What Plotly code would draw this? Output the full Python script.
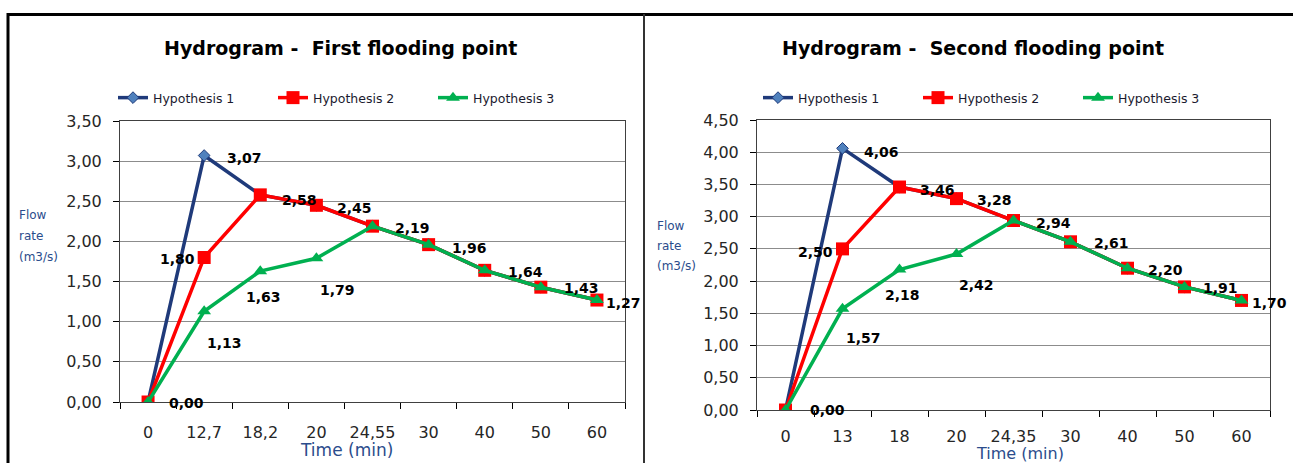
import plotly.graph_objects as go

# ---------------- data ----------------
cats_1 = ["0", "12,7", "18,2", "20", "24,55", "30", "40", "50", "60"]
h1_1 = [0.00, 3.07, 2.58, 2.45, 2.19, 1.96, 1.64, 1.43, 1.27]
h2_1 = [0.00, 1.80, 2.58, 2.45, 2.19, 1.96, 1.64, 1.43, 1.27]
h3_1 = [0.00, 1.13, 1.63, 1.79, 2.19, 1.96, 1.64, 1.43, 1.27]

cats_2 = ["0", "13", "18", "20", "24,35", "30", "40", "50", "60"]
h1_2 = [0.00, 4.06, 3.46, 3.28, 2.94, 2.61, 2.20, 1.91, 1.70]
h2_2 = [0.00, 2.50, 3.46, 3.28, 2.94, 2.61, 2.20, 1.91, 1.70]
h3_2 = [0.00, 1.57, 2.18, 2.42, 2.94, 2.61, 2.20, 1.91, 1.70]

series_names = ["Hypothesis 1", "Hypothesis 2", "Hypothesis 3"]
titles = ["Hydrogram - \u00a0First flooding point", "Hydrogram - \u00a0Second flooding point"]
y_title_lines = ["Flow", "rate", "(m3/s)"]
x_title = "Time (min)"

# ---------------- style ----------------
W, H = 1293, 463
def px_x(v): return v / W
def px_y(v): return 1 - v / H

colors = ["#1F3A7A", "#FF0000", "#00B050"]
symbols = ["diamond", "square", "triangle-up"]
msizes = [9, 13, 12]
mcolors = ["#4F81BD", "#FF0000", "#00B050"]

panels = [
    dict(cats=cats_1, data=[h1_1, h2_1, h3_1], xd=[120, 625], yd=[121, 402], yr=3.5,
         title_x=340, legend="legend", legend_x=113, xstand=16,
         ytitle_x=17, ytitle_ys=[215, 236, 257], xtitle_x=346, xtitle_y=450, xtitle_size=17,
         labels=[(1, 0, "left", 19, -1), (0, 1, "left", 21, -2), (1, 1, "right", -7, -2),
                 (2, 1, "left", 1, -32), (2, 2, "center", 3, -26), (2, 3, "left", 2, -32),
                 (1, 2, "left", 20, -5), (1, 3, "left", 19, -3), (1, 4, "left", 20, -2),
                 (1, 5, "left", 21, -3), (1, 6, "left", 21, -2), (1, 7, "left", 21, -1),
                 (1, 8, "left", 7, -3)]),
    dict(cats=cats_2, data=[h1_2, h2_2, h3_2], xd=[757, 1270], yd=[120, 410], yr=4.5,
         title_x=973, legend="legend2", legend_x=758, xstand=12,
         ytitle_x=655, ytitle_ys=[226, 246, 266], xtitle_x=1020, xtitle_y=453, xtitle_size=16,
         labels=[(1, 0, "left", 22, 0), (0, 1, "left", 19, -4), (1, 1, "right", -8, -3),
                 (2, 1, "left", 1, -29), (2, 2, "center", 3, -25), (2, 3, "left", 0, -31),
                 (1, 2, "left", 18, -3), (1, 3, "left", 18, -1), (1, 4, "left", 20, -2),
                 (1, 5, "left", 21, -1), (1, 6, "left", 18, -2), (1, 7, "left", 16, -1),
                 (1, 8, "left", 8, -3)]),
]

fig = go.Figure()
annotations = []
layout = {}

for p_i, p in enumerate(panels):
    ax = "" if p_i == 0 else str(p_i + 1)
    xref, yref = "x" + ax, "y" + ax
    for s_i in range(3):
        fig.add_trace(go.Scatter(
            x=p["cats"], y=p["data"][s_i], name=series_names[s_i],
            mode="lines+markers", xaxis=xref, yaxis=yref, legend=p["legend"],
            line=dict(color=colors[s_i], width=3.5),
            marker=dict(symbol=symbols[s_i], size=msizes[s_i], color=mcolors[s_i],
                        line=dict(color=colors[s_i], width=1 if s_i == 0 else 0)),
            hoverinfo="skip"))
    layout["xaxis" + ax] = dict(
        domain=[px_x(p["xd"][0]), px_x(p["xd"][1])], anchor=yref, type="category",
        range=[-0.5, 8.5], tickson="boundaries", ticks="outside", ticklen=6,
        tickcolor="#000", showgrid=False, showline=True, mirror=True,
        linecolor="#404040", linewidth=1, zeroline=False, automargin=False,
        tickfont=dict(family="DejaVu Sans", size=16, color="#262626"),
        ticklabelstandoff=p["xstand"], fixedrange=True)
    layout["yaxis" + ax] = dict(
        domain=[px_y(p["yd"][1]), px_y(p["yd"][0])], anchor=xref,
        range=[0, p["yr"]], dtick=0.5, tickformat=".2f", ticks="outside", ticklen=6,
        tickcolor="#000", showgrid=True, gridcolor="#8C8C8C", gridwidth=1,
        showline=True, mirror=True, linecolor="#404040", linewidth=1, zeroline=False,
        automargin=False,
        tickfont=dict(family="DejaVu Sans", size=16, color="#262626"),
        ticklabelstandoff=8, fixedrange=True)
    layout[p["legend"]] = dict(
        orientation="h", x=px_x(p["legend_x"]), xanchor="left", y=px_y(98), yanchor="middle",
        font=dict(family="DejaVu Sans", size=12.5, color="#1A1A2E"),
        bgcolor="rgba(0,0,0,0)", entrywidth=115, entrywidthmode="pixels",
        itemclick=False, itemdoubleclick=False)
    # title
    annotations.append(dict(text="<b>" + titles[p_i] + "</b>", xref="paper", yref="paper",
                            x=px_x(p["title_x"]), y=px_y(48), xanchor="center", yanchor="middle",
                            showarrow=False, font=dict(family="DejaVu Sans", size=19, color="#000")))
    # axis titles
    for line_txt, ly in zip(y_title_lines, p["ytitle_ys"]):
        annotations.append(dict(text=line_txt, xref="paper", yref="paper", align="left",
                                x=px_x(p["ytitle_x"]), y=px_y(ly), xanchor="left",
                                yanchor="middle", showarrow=False,
                                font=dict(family="DejaVu Sans", size=12, color="#2B4C8C")))
    annotations.append(dict(text=x_title, xref="paper", yref="paper",
                            x=px_x(p["xtitle_x"]), y=px_y(p["xtitle_y"]), xanchor="center",
                            yanchor="middle", showarrow=False,
                            font=dict(family="DejaVu Sans", size=p["xtitle_size"], color="#2B4C8C")))
    # data labels (x given as category index on the category axis)
    for (s_i, idx, anc, xs, ys) in p["labels"]:
        v = p["data"][s_i][idx]
        annotations.append(dict(text="<b>" + f"{v:.2f}".replace(".", ",") + "</b>",
                                xref=xref, yref=yref, x=idx, y=v,
                                xanchor=anc, yanchor="middle", xshift=xs, yshift=ys,
                                showarrow=False,
                                font=dict(family="DejaVu Sans", size=14, color="#000")))

shapes = [
    dict(type="line", xref="paper", yref="paper", x0=px_x(7), x1=1, y0=px_y(14.5), y1=px_y(14.5),
         line=dict(color="#000", width=3)),
    dict(type="line", xref="paper", yref="paper", x0=px_x(8), x1=px_x(8), y0=px_y(13), y1=0,
         line=dict(color="#000", width=3)),
    dict(type="line", xref="paper", yref="paper", x0=px_x(644), x1=px_x(644), y0=px_y(14), y1=0,
         line=dict(color="#333", width=2)),
]

fig.update_layout(template="none", width=W, height=H, margin=dict(l=0, r=0, t=0, b=0, pad=0),
                  paper_bgcolor="white", plot_bgcolor="white", separators=",.",
                  annotations=annotations, shapes=shapes, showlegend=True, **layout)

fig.write_html("out.html", config={"displayModeBar": False},
               post_script="document.body.style.margin='0';document.body.style.overflow='hidden';")
